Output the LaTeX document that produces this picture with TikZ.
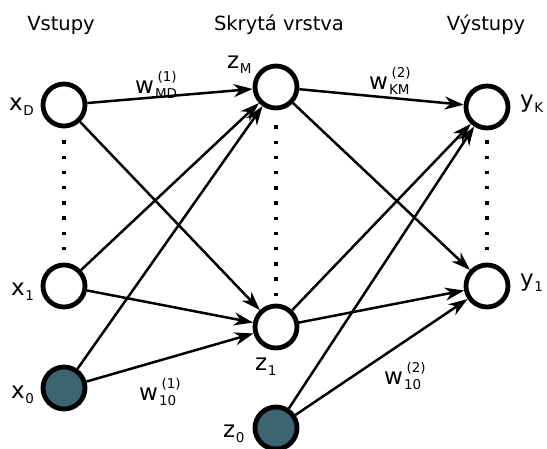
\documentclass[tikz,border=0pt]{standalone}
\usepackage{fontspec}
\setmainfont{DejaVu Sans}
\usetikzlibrary{arrows.meta}
\definecolor{biasfill}{RGB}{59,99,112}
\newcommand\subf{\fontsize{13.5}{15}\selectfont}
\newcommand\varlab[2]{#1\kern0.5pt\raisebox{-5pt}{\subf #2}}
\newcommand\wlab[2]{w\kern1pt\makebox[0pt][l]{\kern2.5pt\raisebox{12pt}{\subf #1}}\raisebox{-5pt}{\subf #2}}
\begin{document}
\begin{tikzpicture}[x=1pt,y=-1pt,
  neuron/.style={circle,draw,line width=4.8pt,minimum size=42pt,inner sep=0pt,fill=white},
  bias/.style={neuron,fill=biasfill},
  conn/.style={line width=2.5pt,-{Stealth[length=19pt,width=13pt,inset=6pt]}},
  dotcol/.style={line width=3.3pt,dash pattern=on 3.3pt off 11.9pt},
  title/.style={font=\fontsize{19.5}{23}\selectfont,anchor=base,inner sep=0pt},
  lab/.style={font=\fontsize{23}{27}\selectfont,anchor=base west,inner sep=0pt}]
\useasboundingbox (0,0) rectangle (547,448);
% titles
\node[title] (t1) at (61,30) {Vstupy};
\node[title] (t2) at (279,30) {Skrytá vrstva};
\node[title] (t3) at (486,30) {Výstupy};
% neurons
\node[neuron] (xD) at (64,105) {};
\node[neuron] (x1) at (64,286) {};
\node[bias]   (x0) at (64,388) {};
\node[neuron] (zM) at (276,87) {};
\node[neuron] (z1) at (276,327) {};
\node[bias]   (z0) at (276,428) {};
\node[neuron] (yK) at (487,107) {};
\node[neuron] (y1) at (487,286) {};
% labels
\node[lab] (lxD) at (9,110) {\varlab{x}{D}};
\node[lab] (lx1) at (11,295) {\varlab{x}{1}};
\node[lab] (lx0) at (11,398) {\varlab{x}{0}};
\node[lab] (lzM) at (227,68) {\varlab{z}{M}};
\node[lab] (lz1) at (255,370) {\varlab{z}{1}};
\node[lab] (lz0) at (223,437) {\varlab{z}{0}};
\node[lab] (lyK) at (520,107) {\varlab{y}{K}};
\node[lab] (ly1) at (520,286) {\varlab{y}{1}};
\node[lab] (w1) at (135,93) {\wlab{(1)}{MD}};
\node[lab] (w2) at (369,89) {\wlab{(2)}{KM}};
\node[lab] (w3) at (139,400) {\wlab{(1)}{10}};
\node[lab] (w4) at (384,384) {\wlab{(2)}{10}};
% dotted columns
\coordinate (d1a) at (64,140.4); \coordinate (d1b) at (64,254);
\coordinate (d2a) at (276,125.4); \coordinate (d2b) at (276,296);
\coordinate (d3a) at (487,140.4); \coordinate (d3b) at (487,254);
\draw[dotcol] (d1a) -- (d1b);
\draw[dotcol] (d2a) -- (d2b);
\draw[dotcol] (d3a) -- (d3b);
% connections
\draw[conn] (xD) -- (zM);
\draw[conn] (xD) -- (z1);
\draw[conn] (x1) -- (zM);
\draw[conn] (x1) -- (z1);
\draw[conn] (x0) -- (zM);
\draw[conn] (x0) -- (z1);
\draw[conn] (zM) -- (yK);
\draw[conn] (zM) -- (y1);
\draw[conn] (z1) -- (yK);
\draw[conn] (z1) -- (y1);
\draw[conn] (z0) -- (yK);
\draw[conn] (z0) -- (y1);
\end{tikzpicture}
\end{document}
